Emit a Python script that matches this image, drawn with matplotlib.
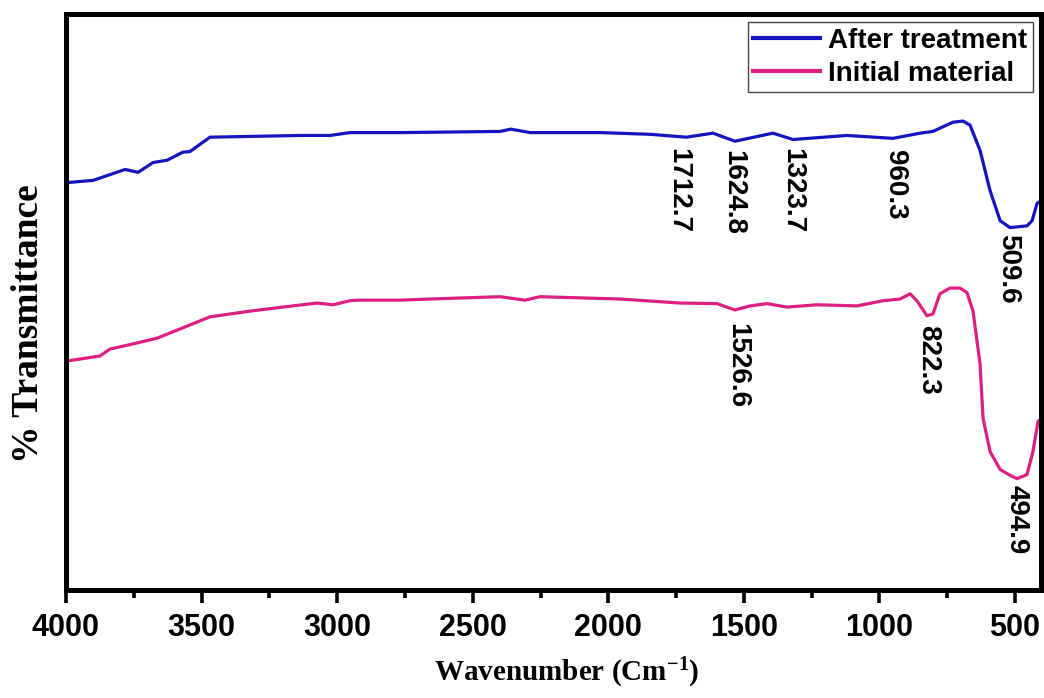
import numpy as np
import matplotlib
matplotlib.use("Agg")
import matplotlib.pyplot as plt
from matplotlib.ticker import MultipleLocator

# FTIR spectra (arbitrary transmittance units)
wn_after = [4000, 3900, 3782, 3734, 3679, 3627, 3569, 3543, 3469, 3137, 3026, 2953,
            2768, 2399, 2360, 2288, 2030, 1846, 1712, 1614, 1533, 1393, 1319, 1120,
            950, 850, 803, 729, 692, 666, 629, 592, 555, 519, 456, 437, 419, 404]
t_after = [70.7, 71.1, 73.0, 72.5, 74.2, 74.6, 76.0, 76.1, 78.6, 78.9, 78.9, 79.4,
           79.4, 79.6, 80.0, 79.4, 79.4, 79.1, 78.6, 79.3, 77.9, 79.3, 78.2, 78.9,
           78.4, 79.3, 79.6, 81.2, 81.4, 80.7, 76.3, 69.3, 64.1, 62.9, 63.2, 64.1, 67.1, 67.6]

wn_init = [4000, 3875, 3838, 3753, 3664, 3569, 3469, 3321, 3200, 3074, 3015, 2953,
           2927, 2768, 2658, 2399, 2307, 2252, 1957, 1736, 1599, 1533, 1477, 1415,
           1341, 1230, 1083, 987, 924, 887, 862, 825, 803, 777, 740, 703, 677, 655,
           629, 618, 592, 555, 519, 493, 456, 434, 415, 404]
t_init = [39.7, 40.6, 41.8, 42.7, 43.7, 45.5, 47.4, 48.4, 49.1, 49.8, 49.5, 50.2,
          50.3, 50.3, 50.5, 50.9, 50.3, 50.9, 50.5, 49.8, 49.7, 48.6, 49.3, 49.7,
          49.1, 49.5, 49.3, 50.2, 50.5, 51.4, 50.2, 47.6, 47.9, 51.4, 52.4, 52.4, 51.6, 48.4,
          39.2, 29.8, 24.0, 20.9, 19.9, 19.3, 20.0, 24.0, 29.3, 29.6]

peak_labels = ["1712.7", "1624.8", "1323.7", "960.3", "509.6", "1526.6", "822.3", "494.9"]

fig = plt.figure(figsize=(10.44, 6.98), dpi=100)
ax = fig.add_axes([0.0632, 0.155, 0.934, 0.825])

ax.plot(wn_after, t_after, color="#1414c0", lw=2.3, label="After treatment")
ax.plot(wn_init, t_init, color="#dc1f80", lw=2.3, label="Initial material")

ax.set_xlim(4000, 404)
ax.set_ylim(0, 100)
ax.set_yticks([])
ax.xaxis.set_major_locator(MultipleLocator(500))
ax.xaxis.set_minor_locator(MultipleLocator(250))
ax.tick_params(axis="x", which="major", direction="out", length=9.5, width=2.6, pad=7)
ax.tick_params(axis="x", which="minor", direction="out", length=6, width=2.6)
for lab in ax.get_xticklabels():
    lab.set_fontfamily("Liberation Sans")
    lab.set_fontweight("bold")
    lab.set_fontsize(22)
for s in ax.spines.values():
    s.set_linewidth(3.6)

# peak annotations: (label, x in cm-1, y)
pos = [(1743, 69.3), (1540, 69.0), (1322, 69.3), (943, 70.4),
       (526, 55.7), (1525, 38.9), (821, 39.9), (493, 12.2)]
for txt, (x, y) in zip(peak_labels, pos):
    ax.text(x, y, txt, rotation=-90, ha="center", va="center",
            fontsize=20, fontweight="bold", family="Liberation Sans")

ax.set_ylabel("% Transmittance", family="Liberation Serif", fontweight="bold", fontsize=27)
ax.yaxis.set_label_coords(-0.021, 0.463)
ax.set_xlabel(r"Wavenumber $\mathregular{(Cm^{-1})}$", family="Liberation Serif",
              fontweight="bold", fontsize=21)
ax.xaxis.set_label_coords(0.514, -0.115)

leg = ax.legend(loc="upper right", prop={"family": "Liberation Sans", "weight": "bold", "size": 20},
                frameon=True, fancybox=False, edgecolor="#444444", framealpha=1,
                handlelength=2.4, handletextpad=0.3, labelspacing=0.25,
                borderpad=0.2, borderaxespad=0.3)
leg.get_frame().set_linewidth(1.0)
for h in leg.get_lines():
    h.set_linewidth(3)

fig.savefig("out.png", dpi=100)
